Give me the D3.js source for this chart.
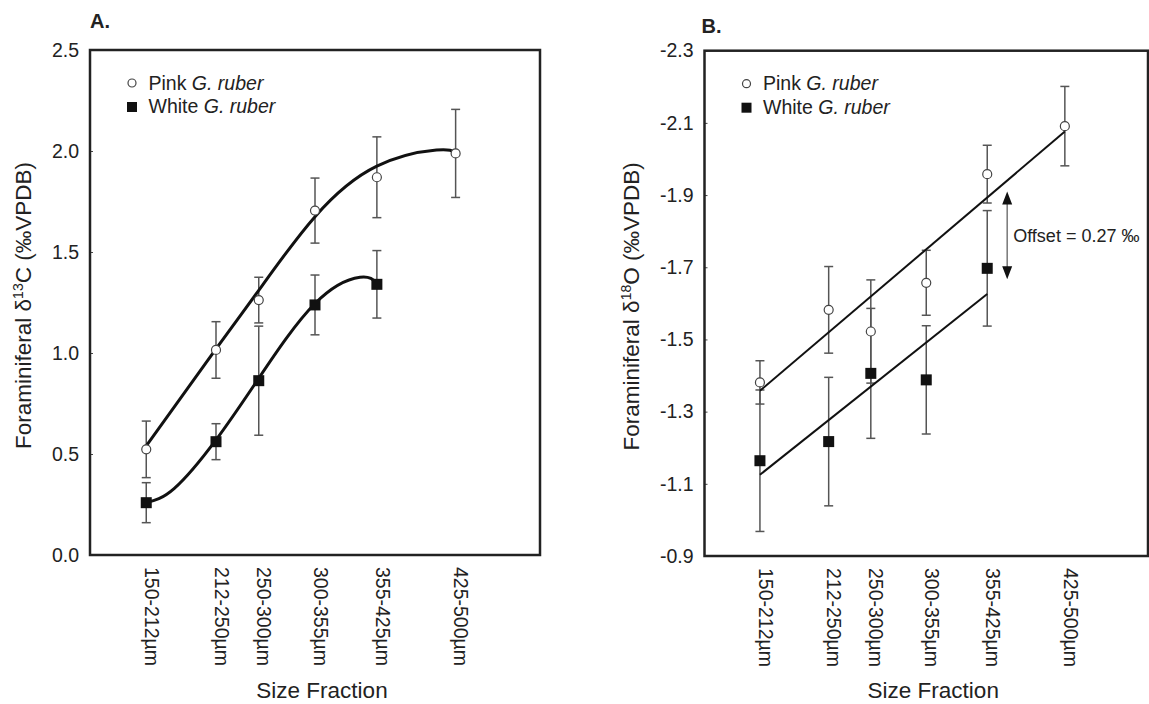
<!DOCTYPE html>
<html>
<head>
<meta charset="utf-8">
<script src="https://cdn.jsdelivr.net/npm/d3@7"></script>
<style>
  body { margin: 0; background: #fff; }
  svg { display: block; font-family: "Liberation Sans", Arial, Helvetica, sans-serif; }
</style>
</head>
<body>
<svg id="chart" width="1149" height="704"></svg>
<script>
// size fractions, positioned by their lower bound (µm)
const sizeLower = [150, 212, 250, 300, 355, 425];
const sizeLabels = ["150-212µm", "212-250µm", "250-300µm", "300-355µm", "355-425µm", "425-500µm"];

// A. carbon isotopes
const pinkC13 = [0.523, 1.015, 1.262, 1.705, 1.87, 1.988];
const pinkC13Err = [0.14, 0.14, 0.113, 0.161, 0.20, 0.218];
const whiteC13 = [0.259, 0.561, 0.863, 1.238, 1.34];
const whiteC13Err = [0.099, 0.089, 0.27, 0.148, 0.167];
// fitted curves
const pinkC13Fit = [[150, 0.54], [212, 1.02], [250, 1.31], [300, 1.675], [355, 1.925], [408, 2.005], [425, 1.99]];
const whiteC13Fit = [[150, 0.26], [175, 0.33], [212, 0.57], [250, 0.875], [300, 1.245], [340, 1.375], [355, 1.345]];

// B. oxygen isotopes
const pinkO18 = [-1.381, -1.582, -1.522, -1.657, -1.958, -2.091];
const pinkO18Err = [0.06, 0.12, 0.143, 0.09, 0.08, 0.11];
const whiteO18 = [-1.164, -1.217, -1.406, -1.388, -1.697];
const whiteO18Err = [0.196, 0.178, 0.18, 0.15, 0.16];
const pinkO18Fit = [[150, -1.358], [425, -2.076]];
const whiteO18Fit = [[150, -1.125], [355, -1.626]];
const offsetArrow = [373, -1.667, -1.91];   // x (µm), from, to
const offsetLabel = "Offset = 0.27 ‰";

const yTicksA = [0, 0.5, 1.0, 1.5, 2.0, 2.5];
const yTicksB = [-2.3, -2.1, -1.9, -1.7, -1.5, -1.3, -1.1, -0.9];

const svg = d3.select("#chart");
const ink = "#222";

function drawPanel(p) {
    const g = svg.append("g");
    const x = d3.scaleLinear().domain([100, 500]).range([p.left, p.right]);
    const y = d3.scaleLinear().domain(p.yDomain).range([p.bottom, p.top]);

    // y axis
    const ya = g.append("g")
        .attr("transform", "translate(" + p.left + ",0)")
        .call(d3.axisLeft(y).tickValues(p.yTicks).tickFormat(d => d.toFixed(1))
            .tickSizeInner(-3).tickSizeOuter(0).tickPadding(11));
    ya.attr("font-family", null).attr("font-size", 19.5);
    ya.select(".domain").remove();
    ya.selectAll("line").attr("stroke", "#444");
    ya.selectAll("text").attr("fill", ink);

    // x axis, rotated labels
    const xa = g.append("g")
        .attr("transform", "translate(0," + p.bottom + ")")
        .call(d3.axisBottom(x).tickValues(sizeLower).tickFormat((d, i) => sizeLabels[i]).tickSize(0));
    xa.attr("font-family", null).attr("font-size", 19.5);
    xa.select(".domain").remove();
    xa.selectAll("text")
        .attr("transform", "rotate(90)")
        .attr("x", 12).attr("y", -5).attr("dy", "0.35em")
        .attr("text-anchor", "start").attr("fill", ink);

    // frame
    g.append("rect")
        .attr("x", p.left).attr("y", p.top)
        .attr("width", p.right - p.left).attr("height", p.bottom - p.top)
        .attr("fill", "none").attr("stroke", ink).attr("stroke-width", 2.5);

    // error bars
    function errBars(vals, errs) {
        vals.forEach(function (v, i) {
            const cx = x(sizeLower[i]);
            const y0 = y(v - errs[i]), y1 = y(v + errs[i]);
            g.append("line").attr("x1", cx).attr("x2", cx).attr("y1", y0).attr("y2", y1)
                .attr("stroke", "#555").attr("stroke-width", 1.5);
            [y0, y1].forEach(function (yy) {
                g.append("line").attr("x1", cx - 4.5).attr("x2", cx + 4.5).attr("y1", yy).attr("y2", yy)
                    .attr("stroke", "#555").attr("stroke-width", 1.5);
            });
        });
    }
    errBars(p.pink, p.pinkErr);
    errBars(p.white, p.whiteErr);

    // fit lines
    const line = d3.line().x(d => x(d[0])).y(d => y(d[1])).curve(p.curve);
    [p.pinkFit, p.whiteFit].forEach(function (f) {
        g.append("path").attr("d", line(f))
            .attr("fill", "none").attr("stroke", "#111").attr("stroke-width", p.fitWidth);
    });

    // points
    g.selectAll(".sq").data(p.white).enter().append("rect")
        .attr("x", (d, i) => x(sizeLower[i]) - 5.5).attr("y", d => y(d) - 5.5)
        .attr("width", 11).attr("height", 11).attr("fill", "#111");
    g.selectAll(".ci").data(p.pink).enter().append("circle")
        .attr("cx", (d, i) => x(sizeLower[i])).attr("cy", d => y(d)).attr("r", 4.5)
        .attr("fill", "#fff").attr("stroke", "#444").attr("stroke-width", 1.2);

    // legend
    const lx = p.left + 42, ly = p.top + 33;
    g.append("circle").attr("cx", lx).attr("cy", ly).attr("r", 4)
        .attr("fill", "#fff").attr("stroke", "#444").attr("stroke-width", 1.2);
    g.append("rect").attr("x", lx - 5).attr("y", ly + 19).attr("width", 10).attr("height", 10).attr("fill", "#111");
    [["Pink ", ly + 6.5], ["White ", ly + 30]].forEach(function (r) {
        const t = g.append("text").attr("x", lx + 16.5).attr("y", r[1])
            .attr("font-size", 19.5).attr("fill", ink);
        t.append("tspan").text(r[0]);
        t.append("tspan").attr("font-style", "italic").text("G. ruber");
    });

    // y title
    const yt = g.append("text")
        .attr("transform", "translate(" + p.titleX + "," + ((p.top + p.bottom) / 2 + 3) + ") rotate(-90)")
        .attr("text-anchor", "middle").attr("dy", "0.35em")
        .attr("font-size", 22.5).attr("fill", ink);
    yt.append("tspan").text("Foraminiferal δ");
    yt.append("tspan").attr("font-size", 14).attr("dy", -8).text(p.iso);
    yt.append("tspan").attr("dy", 8).text(p.elem + " (‰VPDB)");

    // x title
    g.append("text")
        .attr("x", (p.left + p.right) / 2 + 7).attr("y", 698)
        .attr("text-anchor", "middle").attr("font-size", 22.5).attr("fill", ink)
        .text("Size Fraction");

    // panel letter
    g.append("text").attr("x", p.letterX).attr("y", p.letterY)
        .attr("font-size", 20).attr("font-weight", "bold").attr("fill", ink)
        .text(p.letter);

    return { g: g, x: x, y: y };
}

drawPanel({
    left: 90, right: 540, top: 50, bottom: 555,
    yDomain: [0, 2.5], yTicks: yTicksA,
    pink: pinkC13, pinkErr: pinkC13Err, white: whiteC13, whiteErr: whiteC13Err,
    pinkFit: pinkC13Fit, whiteFit: whiteC13Fit,
    curve: d3.curveNatural, fitWidth: 3,
    titleX: 23, iso: "13", elem: "C",
    letter: "A.", letterX: 90, letterY: 28
});

const pb = drawPanel({
    left: 704.5, right: 1148, top: 50.7, bottom: 556,
    yDomain: [-0.9, -2.3], yTicks: yTicksB,
    pink: pinkO18, pinkErr: pinkO18Err, white: whiteO18, whiteErr: whiteO18Err,
    pinkFit: pinkO18Fit, whiteFit: whiteO18Fit,
    curve: d3.curveLinear, fitWidth: 2,
    titleX: 631, iso: "18", elem: "O",
    letter: "B.", letterX: 701.5, letterY: 33
});

// offset arrow in panel B
const ax = pb.x(offsetArrow[0]);
const ay0 = pb.y(offsetArrow[1]), ay1 = pb.y(offsetArrow[2]);
pb.g.append("line").attr("x1", ax).attr("x2", ax).attr("y1", ay0 - 10).attr("y2", ay1 + 10)
    .attr("stroke", "#777").attr("stroke-width", 1.5);
pb.g.append("path")
    .attr("d", "M" + ax + "," + ay1 + " l5,13 l-10,0 Z M" + ax + "," + ay0 + " l5,-13 l-10,0 Z")
    .attr("fill", "#111");
pb.g.append("text")
    .attr("x", ax + 6).attr("y", (ay0 + ay1) / 2 + 6.5)
    .attr("font-size", 18).attr("fill", ink)
    .text(offsetLabel);
</script>
</body>
</html>
